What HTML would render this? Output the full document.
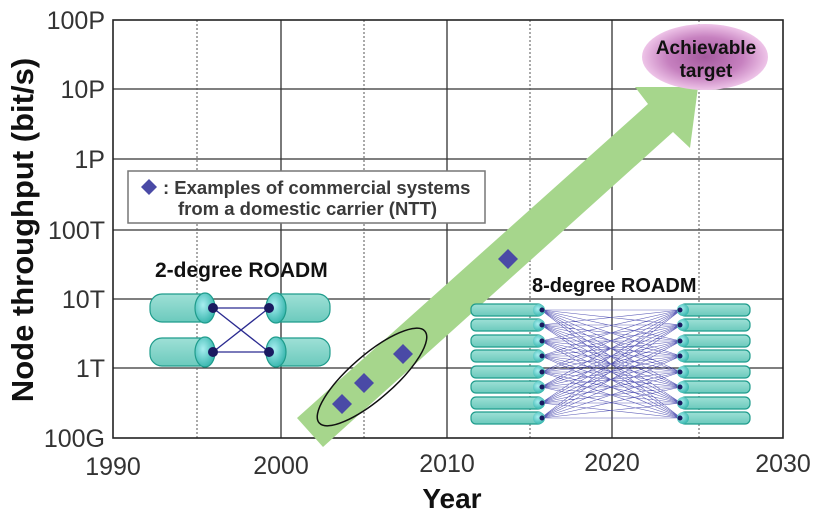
<!DOCTYPE html>
<html><head><meta charset="utf-8"><style>
html,body{margin:0;padding:0;background:#fff;}
svg{display:block;font-family:"Liberation Sans",Arial,sans-serif;}
</style></head><body>
<svg width="820" height="512" viewBox="0 0 820 512" xmlns="http://www.w3.org/2000/svg">
<defs>
<radialGradient id="pg" cx="50%" cy="50%" r="50%">
<stop offset="0" stop-color="#a45a9e"/><stop offset="0.6" stop-color="#c680bf"/><stop offset="1" stop-color="#eec4e8"/>
</radialGradient>
<linearGradient id="cyl" x1="0" y1="0" x2="0" y2="1">
<stop offset="0" stop-color="#9ee0d6"/><stop offset="1" stop-color="#6ccabd"/>
</linearGradient>
<radialGradient id="cap" cx="40%" cy="40%" r="60%">
<stop offset="0" stop-color="#a8eef0"/><stop offset="1" stop-color="#3cb8b0"/>
</radialGradient>
</defs>
<g stroke="#333" stroke-width="1.3">
<line x1="113" y1="89" x2="783" y2="89"/>
<line x1="113" y1="159" x2="783" y2="159"/>
<line x1="113" y1="230" x2="783" y2="230"/>
<line x1="113" y1="299" x2="783" y2="299"/>
<line x1="113" y1="368" x2="783" y2="368"/>
<line x1="281" y1="20" x2="281" y2="438"/>
<line x1="447" y1="20" x2="447" y2="438"/>
<line x1="612" y1="20" x2="612" y2="438"/>
</g>
<g stroke="#555" stroke-width="1" stroke-dasharray="2,2">
<line x1="197" y1="20" x2="197" y2="438"/>
<line x1="364" y1="20" x2="364" y2="438"/>
<line x1="530" y1="20" x2="530" y2="438"/>
<line x1="699" y1="20" x2="699" y2="438"/>
</g>
<rect x="113" y="20" width="670" height="418" fill="none" stroke="#222" stroke-width="1.6"/>
<polygon points="297,418 648,104 635,87 698,87 690,148 673,132 323,447" fill="#a6d68c"/>
<ellipse cx="372" cy="377" rx="70" ry="22" transform="rotate(-41 372 377)" fill="none" stroke="#111" stroke-width="1.5"/>
<g fill="#4a4aa6">
<polygon points="342,394 352,404 342,414 332,404"/>
<polygon points="364,373 374,383 364,393 354,383"/>
<polygon points="403,344 413,354 403,364 393,354"/>
<polygon points="508,249 518,259 508,269 498,259"/>
</g>
<rect x="128" y="171" width="357" height="52" fill="#fff" stroke="#777" stroke-width="1.5"/>
<polygon points="149,179 157,187 149,195 141,187" fill="#4a4aa6"/>
<text x="163" y="194" font-size="18.5" font-weight="bold" fill="#3a3a3a">: Examples of commercial systems</text>
<text x="178" y="215" font-size="18.5" font-weight="bold" fill="#3a3a3a">from a domestic carrier (NTT)</text>
<ellipse cx="705" cy="57" rx="63" ry="33" fill="url(#pg)"/>
<text x="706" y="54" font-size="19" font-weight="bold" text-anchor="middle" fill="#111">Achievable</text>
<text x="706" y="77" font-size="19" font-weight="bold" text-anchor="middle" fill="#111">target</text>
<text x="155" y="277" font-size="21" font-weight="bold" fill="#111">2-degree ROADM</text>
<g stroke="#1f9c8c" stroke-width="1.2">
<rect x="150" y="294" width="62" height="28" rx="12" fill="url(#cyl)"/>
<rect x="150" y="338" width="62" height="28" rx="12" fill="url(#cyl)"/>
<rect x="268" y="294" width="62" height="28" rx="12" fill="url(#cyl)"/>
<rect x="268" y="338" width="62" height="28" rx="12" fill="url(#cyl)"/>
<ellipse cx="205" cy="308" rx="10" ry="15" fill="url(#cap)"/>
<ellipse cx="205" cy="352" rx="10" ry="15" fill="url(#cap)"/>
<ellipse cx="276" cy="308" rx="10" ry="15" fill="url(#cap)"/>
<ellipse cx="276" cy="352" rx="10" ry="15" fill="url(#cap)"/>
</g>
<g stroke="#2a2a90" stroke-width="1.3">
<line x1="213" y1="308" x2="269" y2="308"/><line x1="213" y1="352" x2="269" y2="352"/>
<line x1="213" y1="308" x2="269" y2="352"/><line x1="213" y1="352" x2="269" y2="308"/>
</g>
<g fill="#1a1a60">
<circle cx="213" cy="308" r="5"/><circle cx="213" cy="352" r="5"/>
<circle cx="269" cy="308" r="5"/><circle cx="269" cy="352" r="5"/>
</g>
<rect x="531" y="270" width="167" height="26" fill="#fff"/>
<text x="532" y="292" font-size="20" font-weight="bold" fill="#111">8-degree ROADM</text>
<g stroke="#1f9c8c" stroke-width="1.2" fill="url(#cyl)">
<rect x="471" y="304" width="72" height="12" rx="5"/><rect x="471" y="319" width="72" height="12" rx="5"/>
<rect x="471" y="335" width="72" height="12" rx="5"/><rect x="471" y="350" width="72" height="12" rx="5"/>
<rect x="471" y="366" width="72" height="12" rx="5"/><rect x="471" y="381" width="72" height="12" rx="5"/>
<rect x="471" y="397" width="72" height="12" rx="5"/><rect x="471" y="412" width="72" height="12" rx="5"/>
<rect x="680" y="304" width="70" height="12" rx="5"/><rect x="680" y="319" width="70" height="12" rx="5"/>
<rect x="680" y="335" width="70" height="12" rx="5"/><rect x="680" y="350" width="70" height="12" rx="5"/>
<rect x="680" y="366" width="70" height="12" rx="5"/><rect x="680" y="381" width="70" height="12" rx="5"/>
<rect x="680" y="397" width="70" height="12" rx="5"/><rect x="680" y="412" width="70" height="12" rx="5"/>
</g>
<g stroke="#3a3aa8" stroke-width="0.6" opacity="0.8">
<path d="M541 310L681 310M541 310L681 325M541 310L681 341M541 310L681 356M541 310L681 372M541 310L681 387M541 310L681 403M541 310L681 418
M541 325L681 310M541 325L681 325M541 325L681 341M541 325L681 356M541 325L681 372M541 325L681 387M541 325L681 403M541 325L681 418
M541 341L681 310M541 341L681 325M541 341L681 341M541 341L681 356M541 341L681 372M541 341L681 387M541 341L681 403M541 341L681 418
M541 356L681 310M541 356L681 325M541 356L681 341M541 356L681 356M541 356L681 372M541 356L681 387M541 356L681 403M541 356L681 418
M541 372L681 310M541 372L681 325M541 372L681 341M541 372L681 356M541 372L681 372M541 372L681 387M541 372L681 403M541 372L681 418
M541 387L681 310M541 387L681 325M541 387L681 341M541 387L681 356M541 387L681 372M541 387L681 387M541 387L681 403M541 387L681 418
M541 403L681 310M541 403L681 325M541 403L681 341M541 403L681 356M541 403L681 372M541 403L681 387M541 403L681 403M541 403L681 418
M541 418L681 310M541 418L681 325M541 418L681 341M541 418L681 356M541 418L681 372M541 418L681 387M541 418L681 403M541 418L681 418"/>
</g>
<g fill="url(#cap)">
<circle cx="539" cy="310" r="6"/><circle cx="539" cy="325" r="6"/><circle cx="539" cy="341" r="6"/><circle cx="539" cy="356" r="6"/>
<circle cx="539" cy="372" r="6"/><circle cx="539" cy="387" r="6"/><circle cx="539" cy="403" r="6"/><circle cx="539" cy="418" r="6"/>
<circle cx="683" cy="310" r="6"/><circle cx="683" cy="325" r="6"/><circle cx="683" cy="341" r="6"/><circle cx="683" cy="356" r="6"/>
<circle cx="683" cy="372" r="6"/><circle cx="683" cy="387" r="6"/><circle cx="683" cy="403" r="6"/><circle cx="683" cy="418" r="6"/>
</g>
<g fill="#1a1a60">
<circle cx="542" cy="310" r="2.5"/><circle cx="542" cy="325" r="2.5"/><circle cx="542" cy="341" r="2.5"/><circle cx="542" cy="356" r="2.5"/>
<circle cx="542" cy="372" r="2.5"/><circle cx="542" cy="387" r="2.5"/><circle cx="542" cy="403" r="2.5"/><circle cx="542" cy="418" r="2.5"/>
<circle cx="680" cy="310" r="2.5"/><circle cx="680" cy="325" r="2.5"/><circle cx="680" cy="341" r="2.5"/><circle cx="680" cy="356" r="2.5"/>
<circle cx="680" cy="372" r="2.5"/><circle cx="680" cy="387" r="2.5"/><circle cx="680" cy="403" r="2.5"/><circle cx="680" cy="418" r="2.5"/>
</g>
<g font-size="25" fill="#333" text-anchor="end">
<text x="105" y="29">100P</text>
<text x="105" y="98">10P</text>
<text x="105" y="168">1P</text>
<text x="105" y="239">100T</text>
<text x="105" y="308">10T</text>
<text x="105" y="377">1T</text>
<text x="105" y="447">100G</text>
</g>
<g font-size="25" fill="#333" text-anchor="middle">
<text x="113" y="475">1990</text>
<text x="281" y="474">2000</text>
<text x="447" y="472">2010</text>
<text x="612" y="471">2020</text>
<text x="783" y="472">2030</text>
</g>
<text x="452" y="508" font-size="28" font-weight="bold" text-anchor="middle" fill="#111">Year</text>
<text transform="translate(33 230) rotate(-90)" font-size="31" font-weight="bold" text-anchor="middle" fill="#111">Node throughput (bit/s)</text>
</svg>
</body></html>
